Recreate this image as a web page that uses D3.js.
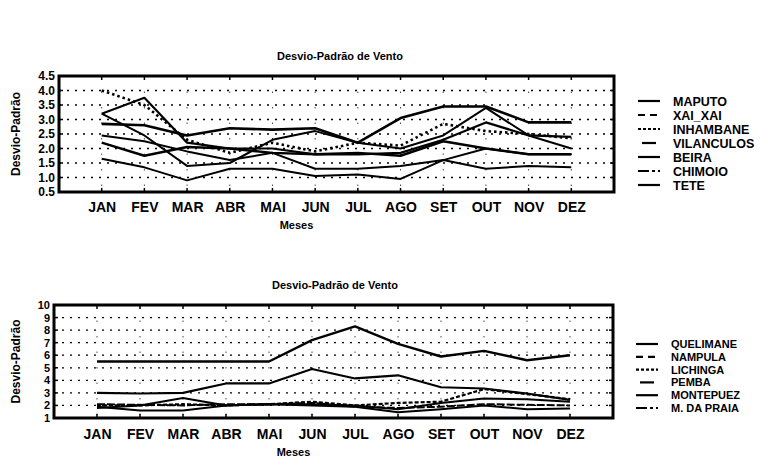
<!DOCTYPE html>
<html><head><meta charset="utf-8">
<script src="https://cdn.jsdelivr.net/npm/d3@7"></script>
<style>
body{margin:0;background:#fff}
svg{display:block}
text{font-family:"Liberation Sans",Arial,sans-serif;font-weight:bold;fill:#000}
</style>
</head><body><svg id="c" width="768" height="465"></svg>
<script>
// ---------- data ----------
const months = ["JAN","FEV","MAR","ABR","MAI","JUN","JUL","AGO","SET","OUT","NOV","DEZ"];

const topTitle = "Desvio-Padrão de Vento";
const topTicks = [0.5,1.0,1.5,2.0,2.5,3.0,3.5,4.0,4.5];
const topNames = ["MAPUTO","XAI_XAI","INHAMBANE","VILANCULOS","BEIRA","CHIMOIO","TETE"];
const maputo     = [2.85,2.8,2.45,2.7,2.65,2.7,2.2,3.05,3.45,3.45,2.9,2.9];
const xaiXai     = [3.2,3.75,2.2,2.0,2.0,1.8,1.8,1.85,2.3,2.9,2.45,2.4];
const inhambane  = [4.0,3.5,2.3,1.85,2.2,1.9,2.2,2.1,2.85,2.6,2.5,2.35];
const vilanculos = [3.2,2.45,1.4,1.5,2.3,2.6,2.2,2.0,2.45,3.4,2.45,2.0];
const beira      = [2.2,1.75,2.05,2.0,1.85,1.8,1.85,1.75,2.25,2.0,1.8,1.8];
const chimoio    = [2.45,2.25,1.9,1.6,1.85,1.3,1.3,1.4,1.6,1.3,1.4,1.35];
const tete       = [1.65,1.35,0.9,1.3,1.3,1.05,1.1,0.95,1.6,2.0,1.8,1.8];

const bottomTitle = "Desvio-Padrão de Vento";
const bottomTicks = [1,2,3,4,5,6,7,8,9,10];
const bottomNames = ["QUELIMANE","NAMPULA","LICHINGA","PEMBA","MONTEPUEZ","M. DA PRAIA"];
const quelimane = [5.5,5.5,5.5,5.5,5.5,7.2,8.3,6.9,5.9,6.35,5.6,6.0];
const nampula   = [3.0,2.95,3.0,3.75,3.75,4.9,4.15,4.4,3.45,3.35,2.95,2.45];
const lichinga  = [2.0,2.0,2.1,2.0,2.1,2.3,2.0,2.2,2.3,3.3,2.9,2.5];
const pemba     = [1.9,1.6,1.6,2.0,2.1,2.0,1.9,1.45,1.7,2.0,1.7,1.75];
const montepuez = [1.8,2.0,2.6,2.0,2.1,2.1,2.0,1.7,2.2,2.55,2.5,2.3];
const mDaPraia  = [2.1,2.05,2.0,2.1,2.1,2.2,1.9,1.8,1.9,2.1,2.05,2.0];

const yLabel = "Desvio-Padrão";
const xLabel = "Meses";

// ---------- styles ----------
const topStyles = [
  {w:2.6, dash:null, leg:null},
  {w:2.2, dash:null, leg:"7,5"},
  {w:2.6, dash:"2.5,3", leg:"3,2"},
  {w:2.0, dash:null, leg:null, legShort:true},
  {w:2.4, dash:null, leg:null},
  {w:2.0, dash:null, leg:"11,3,3,3"},
  {w:2.0, dash:null, leg:null}
];
const bottomStyles = [
  {w:2.4, dash:null, leg:null},
  {w:2.2, dash:null, leg:"7,5"},
  {w:2.2, dash:"4,2", leg:"3,2"},
  {w:2.0, dash:null, leg:null, legShort:true},
  {w:2.0, dash:null, leg:null},
  {w:2.0, dash:"8,2", leg:"11,3,3,3"}
];

const svg = d3.select("#c");

function drawChart(cfg){
  const g = svg.append("g");
  const x = d3.scalePoint().domain(months).range([cfg.left, cfg.right]).padding(1);
  const y = d3.scaleLinear().domain(cfg.domain).range([cfg.bottom, cfg.top]);

  // grid (dotted)
  g.append("g").selectAll("line").data(cfg.ticks.slice(1,-1)).join("line")
    .attr("x1", cfg.left).attr("x2", cfg.right)
    .attr("y1", d=>y(d)).attr("y2", d=>y(d))
    .attr("stroke","#000").attr("stroke-width",1.3).attr("stroke-dasharray","2,6");
  g.append("g").selectAll("line").data(months).join("line")
    .attr("x1", d=>x(d)).attr("x2", d=>x(d))
    .attr("y1", cfg.top).attr("y2", cfg.bottom)
    .attr("stroke","#000").attr("stroke-width",1).attr("stroke-dasharray","1.5,14").attr("opacity",0.7);

  // inner ticks
  const tk = g.append("g").attr("stroke","#000").attr("stroke-width",1.5);
  months.forEach(m=>{
    tk.append("line").attr("x1",x(m)).attr("x2",x(m)).attr("y1",cfg.top).attr("y2",cfg.top+4);
    tk.append("line").attr("x1",x(m)).attr("x2",x(m)).attr("y1",cfg.bottom).attr("y2",cfg.bottom-4);
  });
  cfg.ticks.forEach(t=>{
    tk.append("line").attr("x1",cfg.left).attr("x2",cfg.left+4).attr("y1",y(t)).attr("y2",y(t));
    tk.append("line").attr("x1",cfg.right).attr("x2",cfg.right-4).attr("y1",y(t)).attr("y2",y(t));
  });

  // series
  const line = d3.line().x((d,i)=>x(months[i])).y(d=>y(d));
  cfg.series.forEach((s,i)=>{
    const st = cfg.styles[i];
    g.append("path").datum(s).attr("d", line)
      .attr("fill","none").attr("stroke","#000")
      .attr("stroke-width", st.w)
      .attr("stroke-dasharray", st.dash)
      .attr("stroke-linejoin","round");
  });

  // frame
  g.append("rect").attr("x",cfg.left).attr("y",cfg.top)
    .attr("width",cfg.right-cfg.left).attr("height",cfg.bottom-cfg.top)
    .attr("fill","none").attr("stroke","#000").attr("stroke-width",3);

  // axes
  const ya = g.append("g").attr("transform",`translate(${cfg.left},0)`)
    .call(d3.axisLeft(y).tickValues(cfg.ticks).tickFormat(cfg.fmt).tickSize(0).tickPadding(4));
  ya.select(".domain").remove();
  ya.selectAll("text").attr("font-size",cfg.yfs).attr("font-family",null).style("font-weight","bold");

  const xa = g.append("g").attr("transform",`translate(0,${cfg.bottom})`)
    .call(d3.axisBottom(x).tickSize(0).tickPadding(cfg.xpad));
  xa.select(".domain").remove();
  xa.selectAll("text").attr("font-size",14).attr("font-family",null).style("font-weight","bold");

  // titles
  g.append("text").attr("x",cfg.titleX).attr("y",cfg.titleY).attr("text-anchor","middle")
    .attr("font-size",11).text(cfg.title);
  g.append("text").attr("x",(cfg.left+cfg.right)/2 - 40).attr("y",cfg.mesesY).attr("text-anchor","middle")
    .attr("font-size",11).text(xLabel);
  g.append("text").attr("transform",`translate(${cfg.ylx},${(cfg.top+cfg.bottom)/2}) rotate(-90)`)
    .attr("text-anchor","middle").attr("font-size",12).text(yLabel);

  // legend
  const lg = g.append("g");
  cfg.names.forEach((n,i)=>{
    const st = cfg.styles[i];
    const yy = cfg.legY + i*cfg.legStep;
    lg.append("line").attr("x1", st.legShort? cfg.legX+4 : cfg.legX).attr("x2", st.legShort? cfg.legX+18 : cfg.legX+22)
      .attr("y1",yy).attr("y2",yy).attr("stroke","#000").attr("stroke-width",2.2)
      .attr("stroke-dasharray", st.leg);
    lg.append("text").attr("x",cfg.legX+35).attr("y",yy).attr("dy","0.36em")
      .attr("font-size",cfg.legFs).text(n);
  });
}

drawChart({
  left:59, right:614, top:76, bottom:192, domain:[0.5,4.5], ticks:topTicks,
  fmt:d3.format(".1f"), yfs:12, xpad:10,
  series:[maputo,xaiXai,inhambane,vilanculos,beira,chimoio,tete], styles:topStyles, names:topNames,
  title:topTitle, titleX:340, titleY:60, mesesY:229, ylx:20,
  legX:638, legY:101, legStep:14, legFs:12.5
});
drawChart({
  left:54, right:613, top:305, bottom:418, domain:[1,10], ticks:bottomTicks,
  fmt:d3.format("d"), yfs:11, xpad:11,
  series:[quelimane,nampula,lichinga,pemba,montepuez,mDaPraia], styles:bottomStyles, names:bottomNames,
  title:bottomTitle, titleX:335, titleY:289, mesesY:456, ylx:20,
  legX:636, legY:344, legStep:12.8, legFs:11
});
</script>
</body></html>
